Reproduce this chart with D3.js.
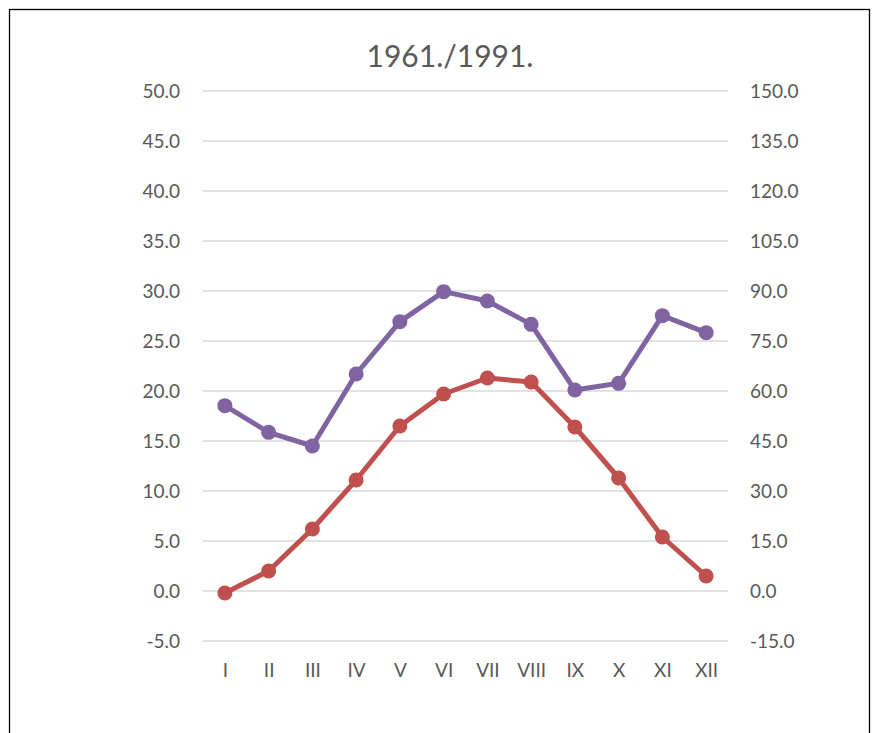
<!DOCTYPE html>
<html>
<head>
<meta charset="utf-8">
<script src="https://cdn.jsdelivr.net/npm/d3@7"></script>
<style>
  body { margin: 0; background: #fff; }
  text { font-family: Lato, "Open Sans", sans-serif; fill: #595959; }
</style>
</head>
<body>
<div id="chart"></div>
<script>
var months = ["I", "II", "III", "IV", "V", "VI", "VII", "VIII", "IX", "X", "XI", "XII"];
var temperature = [-0.2, 2.0, 6.2, 11.1, 16.5, 19.7, 21.3, 20.9, 16.4, 11.3, 5.4, 1.5];
var precipitation = [55.6, 47.6, 43.5, 65.1, 80.8, 89.8, 87.0, 80.0, 60.3, 62.3, 82.6, 77.5];
var leftTicks = [-5, 0, 5, 10, 15, 20, 25, 30, 35, 40, 45, 50];
var rightTicks = [-15, 0, 15, 30, 45, 60, 75, 90, 105, 120, 135, 150];
var title = "1961./1991.";

var svgWidth = 880;
var svgHeight = 733;

var margin = { top: 91, right: 152, bottom: 92, left: 203 };
var width = svgWidth - margin.left - margin.right;
var height = svgHeight - margin.top - margin.bottom;

var svg = d3.select("#chart")
  .append("svg")
  .attr("width", svgWidth)
  .attr("height", svgHeight);

svg.append("rect")
  .attr("x", 9.5)
  .attr("y", 9.5)
  .attr("width", 860)
  .attr("height", 760)
  .attr("fill", "none")
  .attr("stroke", "#000")
  .attr("stroke-width", 1.3);

svg.append("text")
  .attr("x", 450)
  .attr("y", 67)
  .attr("text-anchor", "middle")
  .style("font-size", "30px")
  .text(title);

var chartGroup = svg.append("g")
  .attr("transform", `translate(${margin.left}, ${margin.top})`);

var xScale = d3.scalePoint()
  .domain(months)
  .range([0, width])
  .padding(0.5);

var yLeft = d3.scaleLinear().domain([-5, 50]).range([height, 0]);
var yRight = d3.scaleLinear().domain([-15, 150]).range([height, 0]);

// hyphen instead of unicode minus, like the original
var fmt = d => d.toFixed(1);

// grid
chartGroup.selectAll("line.grid")
  .data(leftTicks)
  .enter()
  .append("line")
  .attr("class", "grid")
  .attr("x1", 0)
  .attr("x2", width)
  .attr("y1", d => yLeft(d))
  .attr("y2", d => yLeft(d))
  .attr("stroke", "#d9d9d9")
  .attr("stroke-width", 1.5);

var leftAxis = d3.axisLeft(yLeft)
  .tickValues(leftTicks)
  .tickFormat(fmt)
  .tickSize(0)
  .tickPadding(23);
var gl = chartGroup.append("g").call(leftAxis);

var rightAxis = d3.axisRight(yRight)
  .tickValues(rightTicks)
  .tickFormat(fmt)
  .tickSize(0)
  .tickPadding(22);
var gr = chartGroup.append("g")
  .attr("transform", `translate(${width}, 0)`)
  .call(rightAxis);

var bottomAxis = d3.axisBottom(xScale).tickSize(0).tickPadding(23);
var gb = chartGroup.append("g")
  .attr("transform", `translate(0, ${height})`)
  .call(bottomAxis);

[gl, gr, gb].forEach(function(g) {
  g.select(".domain").remove();
  g.selectAll("text")
    .style("font-size", "19px")
    .style("font-family", "Lato, 'Open Sans', sans-serif")
    .attr("fill", "#595959");
});

function drawSeries(values, scale, color) {
  var line = d3.line()
    .x((d, i) => xScale(months[i]))
    .y(d => scale(d));
  chartGroup.append("path")
    .datum(values)
    .attr("d", line)
    .attr("fill", "none")
    .attr("stroke", color)
    .attr("stroke-width", 5)
    .attr("stroke-linejoin", "round");
  chartGroup.append("g")
    .selectAll("circle")
    .data(values)
    .enter()
    .append("circle")
    .attr("cx", (d, i) => xScale(months[i]))
    .attr("cy", d => scale(d))
    .attr("r", 7.5)
    .attr("fill", color);
}

drawSeries(precipitation, yRight, "#8064a2");
drawSeries(temperature, yLeft, "#c0504d");
</script>
</body>
</html>
